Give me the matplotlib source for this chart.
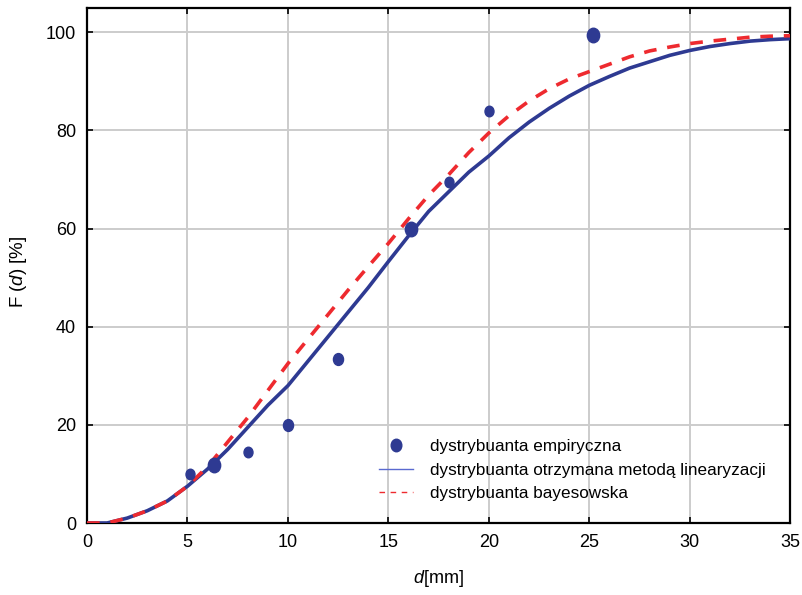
import matplotlib.pyplot as plt
from matplotlib.lines import Line2D
from matplotlib.path import Path

plt.rcParams['font.family'] = ['Liberation Sans', 'DejaVu Sans']
plt.rcParams['mathtext.fontset'] = 'custom'
plt.rcParams['mathtext.rm'] = 'Liberation Sans'
plt.rcParams['mathtext.it'] = 'Liberation Sans:italic'

# empirical distribution points
emp_d = [5.1, 6.3, 8.0, 10.0, 12.5, 16.1, 18.0, 20.0, 25.2]
emp_F = [10.0, 11.8, 14.4, 20.0, 33.5, 60.0, 69.5, 84.0, 99.4]
emp_px = [8, 11, 8, 9, 9, 11, 8, 8, 11]

# curves
d_grid = list(range(0, 36))
F_lin = [0, 0, 1, 2.5, 4.5, 7.5, 11, 15, 19.5, 24, 28, 33, 38, 43, 48, 53.3,
         58.5, 63.5, 67.5, 71.5, 74.8, 78.5, 81.7, 84.5, 87, 89.2, 91, 92.7,
         94, 95.3, 96.3, 97.1, 97.7, 98.2, 98.5, 98.7]
F_bay = [0, 0, 1, 2.5, 4.5, 7.5, 11.5, 16.5, 21.5, 27, 32.5, 37.5, 42.5, 47.5,
         52.3, 57, 62, 66.8, 71, 75.5, 79.5, 83, 86, 88.5, 90.5, 92, 93.5,
         95, 96.2, 97, 97.7, 98.2, 98.6, 99, 99.2, 99.3]

blue = '#2e3a92'
red = '#ee2a2f'

fig = plt.figure(figsize=(8.02, 5.95), dpi=100)
ax = fig.add_axes([0.1085, 0.121, 0.877, 0.866])

ax.plot(d_grid, F_lin, color=blue, lw=2.6, zorder=3)
ax.plot(d_grid, F_bay, color=red, lw=2.6, ls=(0, (3.5, 3)), zorder=4)

circ = Path.unit_circle()
oval = Path(circ.vertices * [0.85, 1.0], circ.codes)
for x, y, s in zip(emp_d, emp_F, emp_px):
    ax.plot(x, y, marker=oval, ms=s * 0.95, color=blue, ls='none', zorder=5)

ax.set_xlim(0, 35)
ax.set_ylim(0, 105)
ax.set_xticks(range(0, 36, 5))
ax.set_yticks(range(0, 101, 20))
ax.grid(True, color='#cccccc', lw=1.4)
ax.set_axisbelow(True)
ax.tick_params(direction='in', length=4, width=1.2, top=True, right=True,
               labelsize=13, pad=8)
for sp in ax.spines.values():
    sp.set_linewidth(1.6)

ax.set_xlabel('$d$[mm]', fontsize=13, labelpad=12)
ax.set_ylabel('F ($d$) [%]', fontsize=13.5)
ax.yaxis.set_label_coords(-0.083, 0.487)

handles = [
    Line2D([], [], marker=oval, ms=9, color=blue, ls='none'),
    Line2D([], [], color='#5a6ad0', lw=1),
    Line2D([], [], color=red, lw=1, ls=(0, (4, 4))),
]
labels = ['dystrybuanta empiryczna',
          'dystrybuanta otrzymana metodą linearyzacji',
          'dystrybuanta bayesowska']
ax.legend(handles, labels, loc='lower left', bbox_to_anchor=(0.393, 0.012),
          frameon=False, fontsize=12.3, handlelength=2.0, handletextpad=1.0,
          labelspacing=0.5)

fig.savefig('out.png', dpi=100)
